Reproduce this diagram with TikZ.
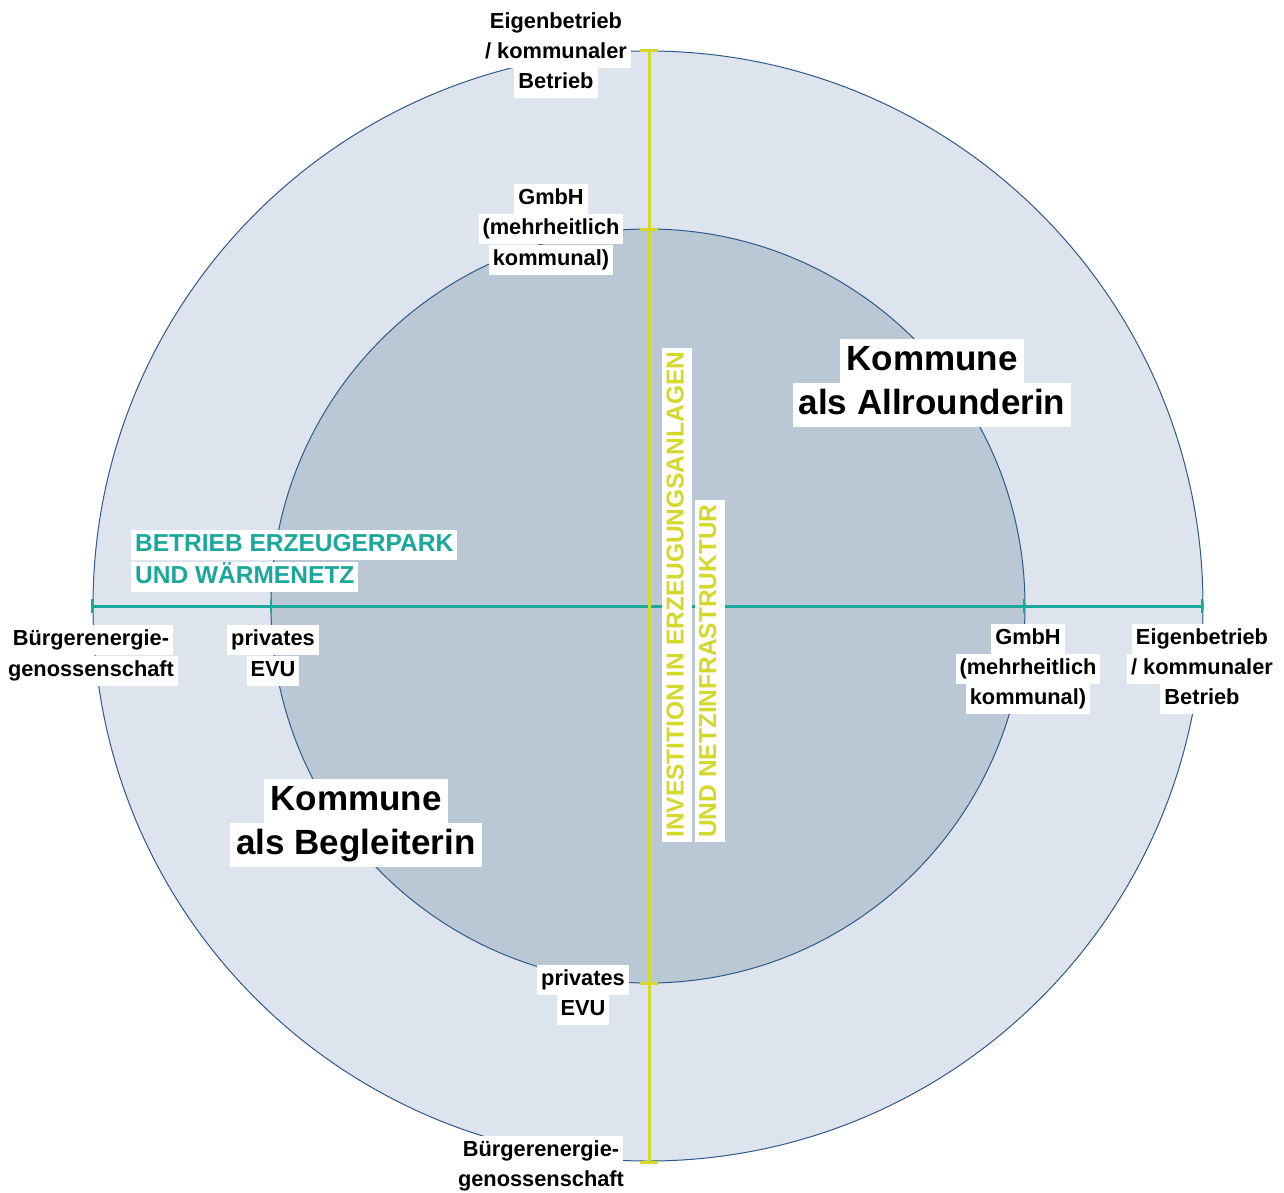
\documentclass[tikz,border=0pt]{standalone}
\usepackage{fontspec}
\setmainfont{Liberation Sans}
\definecolor{outerfill}{HTML}{DDE4ED}
\definecolor{innerfill}{HTML}{BAC8D6}
\definecolor{ringline}{HTML}{2D5A8C}
\definecolor{lime}{HTML}{D3D82A}
\definecolor{teal}{HTML}{1AA79C}
\tikzset{
  lbl/.style={fill=white, font=\bfseries\fontsize{21.8}{24}\selectfont, text height=16pt, text depth=5pt, inner xsep=4pt, inner ysep=4.5pt},
  big/.style={fill=white, font=\bfseries\fontsize{35}{40}\selectfont, text height=26pt, text depth=8pt, inner xsep=6pt, inner ysep=5pt},
  axislbl/.style={fill=white, font=\bfseries\fontsize{24.5}{28}\selectfont, text height=18pt, text depth=5pt, inner xsep=4pt, inner ysep=3.5pt},
  vaxis/.style={line width=3pt, draw=lime},
  haxis/.style={line width=3pt, draw=teal},
  vtick/.style={line width=3pt, draw=lime},
  htick/.style={line width=2.5pt, draw=teal},
}
\begin{document}
\begin{tikzpicture}[x=1pt,y=-1pt]
\useasboundingbox (0,0) rectangle (1284,1193);
% rings
\node[circle, fill=outerfill, draw=ringline, line width=1pt, minimum size=1110pt, inner sep=0pt] (outer) at (648,606) {};
\node[circle, fill=innerfill, draw=ringline, line width=1pt, minimum size=754pt, inner sep=0pt] (inner) at (648,606) {};
% axis end coordinates
\coordinate (hl) at (92,606);
\coordinate (hli) at (271,606);
\coordinate (hri) at (1024,606);
\coordinate (hr) at (1202,606);
\coordinate (vt) at (649,51);
\coordinate (vti) at (649,229);
\coordinate (vbi) at (649,983);
\coordinate (vb) at (649,1162);
% horizontal axis
\draw[haxis] (hl) -- (hr);
\foreach \p in {hl,hli,hri,hr} \draw[htick] ([yshift=-7pt]\p) -- ([yshift=7pt]\p);
% vertical axis
\draw[vaxis] (vt) -- (vb);
\foreach \p in {vt,vti,vbi,vb} \draw[vtick] ([xshift=-9pt]\p) -- ([xshift=9pt]\p);
% top labels
\node[lbl] (t1a) at (556,23) {Eigenbetrieb};
\node[lbl] (t1b) at (556,53) {/ kommunaler};
\node[lbl] (t1c) at (556,83) {Betrieb};
\node[lbl] (t2a) at (551,199) {GmbH};
\node[lbl] (t2b) at (551,229) {(mehrheitlich};
\node[lbl] (t2c) at (551,260) {kommunal)};
% bottom labels
\node[lbl] (b1a) at (583,980) {privates};
\node[lbl] (b1b) at (583,1010) {EVU};
\node[lbl] (b2a) at (541,1151) {Bürgerenergie-};
\node[lbl] (b2b) at (541,1181) {genossenschaft};
% left labels
\node[lbl] (l1a) at (91,640) {Bürgerenergie-};
\node[lbl] (l1b) at (91,671) {genossenschaft};
\node[lbl] (l2a) at (273,640) {privates};
\node[lbl] (l2b) at (273,671) {EVU};
% right labels
\node[lbl] (r1a) at (1028,639) {GmbH};
\node[lbl] (r1b) at (1028,669) {(mehrheitlich};
\node[lbl] (r1c) at (1028,699) {kommunal)};
\node[lbl] (r2a) at (1202,639) {Eigenbetrieb};
\node[lbl] (r2b) at (1202,669) {/ kommunaler};
\node[lbl] (r2c) at (1202,699) {Betrieb};
% axis titles
\node[axislbl, text=teal, anchor=west] (h1) at (131,545) {BETRIEB ERZEUGERPARK};
\node[axislbl, text=teal, anchor=west] (h2) at (131,577) {UND WÄRMENETZ};
\node[axislbl, text=lime, rotate=90, anchor=west] (v1) at (677,842) {INVESTITION IN ERZEUGUNGSANLAGEN};
\node[axislbl, text=lime, rotate=90, anchor=west] (v2) at (709.5,842) {UND NETZINFRASTRUKTUR};
% quadrant titles
\node[big] (q1a) at (932,361) {Kommune};
\node[big] (q1b) at (932,405) {als Allrounderin};
\node[big] (q2a) at (356,801) {Kommune};
\node[big] (q2b) at (356,845) {als Begleiterin};
\end{tikzpicture}
\end{document}
